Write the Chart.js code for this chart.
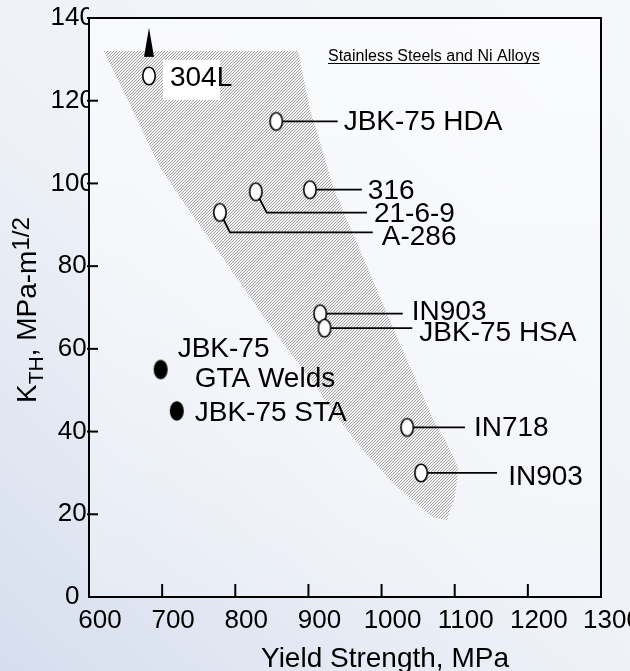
<!DOCTYPE html>
<html>
<head>
<meta charset="utf-8">
<script src="https://cdn.jsdelivr.net/npm/chart.js@4/dist/chart.umd.min.js"></script>
<style>
html,body{margin:0;padding:0;background:#eef1f7;}
#wrap{position:relative;width:630px;height:671px;}
</style>
</head>
<body>
<div id="wrap"><canvas id="c"></canvas></div>
<script>
// ---------- data ----------
const openNames  = ['304L','JBK-75 HDA','316','21-6-9','A-286','IN903','JBK-75 HSA','IN718','IN903'];
const openYield  = [682, 856, 902, 828, 779, 916, 922, 1035, 1054];
const openKth    = [126, 115, 98.5, 98, 93, 68.5, 65, 41, 30];

const solidNames = [['JBK-75','GTA Welds'], ['JBK-75 STA']];
const solidYield = [698, 720];
const solidKth   = [55, 45];

const arrowYield = [682];
const arrowKth   = [134];

const bandYield = [620, 652, 697, 727, 775, 838, 871, 906, 939, 975, 1016, 1070, 1089, 1100, 1105, 1094, 1069, 1028, 970, 935, 919, 902, 886];
const bandKth   = [132, 120.5, 104, 96, 84, 68, 60, 52, 43.5, 35.5, 27.5, 19.3, 18.6, 24, 31, 35.5, 43.5, 60, 84, 98.5, 108, 118, 132];

const xTickValues = [600, 700, 800, 900, 1000, 1100, 1200, 1300];
const yTickValues = [0, 20, 40, 60, 80, 100, 120, 140];

const bandNote = 'Stainless Steels and Ni Alloys';
const xTitle = 'Yield Strength, MPa';

// ---------- callout layout (leader end in MPa, offsets in px) ----------
const openCallouts = [
  {lead:null, dx:21, dy:2.5, box:[14,-16,57,40]},
  {lead:940,  gap:6,  dy:1},
  {lead:973,  gap:6,  dy:2},
  {lead:980,  gap:7,  dy:2, bend:[11,21]},
  {lead:988,  gap:9,  dy:5, bend:[10,20]},
  {lead:1029, gap:9,  dy:-1},
  {lead:1042, gap:7,  dy:5},
  {lead:1114, gap:9,  dy:1},
  {lead:1158, gap:11, dy:4}
];
const solidCallouts = [
  [{dx:17, dy:-20}, {dx:34, dy:10}],
  [{dx:18, dy:2}]
];

const FONT = "'Liberation Sans', Arial, Helvetica, sans-serif";

// ---------- marker images ----------
function ellipseMarker(w, h, rx, ry, fill, stroke, lw) {
  const c = document.createElement('canvas'); c.width = w; c.height = h;
  const g = c.getContext('2d');
  g.beginPath(); g.ellipse(w/2, h/2, rx, ry, 0, 0, Math.PI*2);
  g.fillStyle = fill; g.fill();
  if (stroke) { g.lineWidth = lw; g.strokeStyle = stroke; g.stroke(); }
  return c;
}
const openMarker  = ellipseMarker(16, 22, 6.2, 8.8, '#ffffff', '#000000', 1.6);
const solidMarker = ellipseMarker(16, 22, 7, 9.8, '#000000', null, 0);
const arrowMarker = (function(){
  const c = document.createElement('canvas'); c.width = 12; c.height = 30;
  const g = c.getContext('2d');
  g.beginPath(); g.moveTo(6, 0); g.lineTo(11, 29); g.lineTo(1, 29); g.closePath();
  g.fillStyle = '#000'; g.fill();
  return c;
})();
const hatch = (function(){
  const c = document.createElement('canvas'); c.width = 3; c.height = 3;
  const g = c.getContext('2d');
  g.fillStyle = '#f3f3f3'; g.fillRect(0,0,3,3);
  g.fillStyle = '#a2a2a2';
  g.fillRect(2,0,1,1); g.fillRect(1,1,1,1); g.fillRect(0,2,1,1);
  return g.createPattern(c, 'repeat');
})();

const toPts = (xs, ys) => xs.map((x, i) => ({x: x, y: ys[i]}));

// ---------- drawing plugin ----------
const deco = {
  id: 'deco',
  beforeDraw(chart) {
    const ctx = chart.ctx, W = chart.width, H = chart.height;
    ctx.save();
    const g = ctx.createLinearGradient(W, 0, 0, H);
    g.addColorStop(0, '#f6f7fa');
    g.addColorStop(0.55, '#eef1f7');
    g.addColorStop(1, '#d6deee');
    ctx.fillStyle = g; ctx.fillRect(0, 0, W, H);
    const a = chart.chartArea;
    const g2 = ctx.createLinearGradient(0, a.top, 0, a.bottom);
    g2.addColorStop(0, 'rgba(255,255,255,0.55)');
    g2.addColorStop(1, 'rgba(255,255,255,0.25)');
    ctx.fillStyle = g2; ctx.fillRect(a.left, a.top, a.right - a.left, a.bottom - a.top);
    ctx.restore();
  },
  beforeDatasetsDraw(chart) {
    const ctx = chart.ctx, xs = chart.scales.x, ys = chart.scales.y;
    ctx.save();
    ctx.strokeStyle = '#000'; ctx.lineWidth = 1.8;
    openCallouts.forEach((c, i) => {
      if (c.lead == null) return;
      const px = xs.getPixelForValue(openYield[i]);
      const py = ys.getPixelForValue(openKth[i]);
      const ex = xs.getPixelForValue(c.lead);
      ctx.beginPath(); ctx.moveTo(px, py);
      let ly = py;
      if (c.bend) { ly = py + c.bend[1]; ctx.lineTo(px + c.bend[0], ly); }
      ctx.lineTo(ex, ly); ctx.stroke();
    });
    ctx.restore();
  },
  afterDatasetsDraw(chart) {
    const ctx = chart.ctx, xs = chart.scales.x, ys = chart.scales.y;
    ctx.save();
    ctx.fillStyle = '#000';
    ctx.textBaseline = 'middle'; ctx.textAlign = 'left';
    ctx.font = '28px ' + FONT;
    openCallouts.forEach((c, i) => {
      const px = xs.getPixelForValue(openYield[i]);
      const py = ys.getPixelForValue(openKth[i]);
      if (c.lead == null) {
        if (c.box) { ctx.fillStyle = '#ffffff'; ctx.fillRect(px + c.box[0], py + c.box[1], c.box[2], c.box[3]); ctx.fillStyle = '#000'; }
        ctx.fillText(openNames[i], px + c.dx, py + c.dy);
        return;
      }
      const ex = xs.getPixelForValue(c.lead);
      const ly = c.bend ? py + c.bend[1] : py;
      ctx.fillText(openNames[i], ex + c.gap, ly + c.dy);
    });
    solidCallouts.forEach((lines, i) => {
      const px = xs.getPixelForValue(solidYield[i]);
      const py = ys.getPixelForValue(solidKth[i]);
      lines.forEach((o, k) => ctx.fillText(solidNames[i][k], px + o.dx, py + o.dy));
    });
    ctx.font = '16px ' + FONT; ctx.textBaseline = 'alphabetic';
    const nx = 328, ny = 61;
    ctx.fillText(bandNote, nx, ny);
    const nw = ctx.measureText(bandNote).width;
    ctx.lineWidth = 1; ctx.strokeStyle = '#000';
    ctx.beginPath(); ctx.moveTo(nx, ny + 2.5); ctx.lineTo(nx + nw, ny + 2.5); ctx.stroke();
    ctx.restore();
  },
  afterDraw(chart) {
    const ctx = chart.ctx, xs = chart.scales.x, ys = chart.scales.y, a = chart.chartArea;
    ctx.save();
    ctx.strokeStyle = '#000'; ctx.lineWidth = 2;
    ctx.strokeRect(a.left, a.top, a.right - a.left, a.bottom - a.top);
    xs.ticks.forEach(t => {
      if (t.value <= xs.min || t.value >= xs.max) return;
      const x = xs.getPixelForValue(t.value);
      ctx.beginPath(); ctx.moveTo(x, a.bottom); ctx.lineTo(x, a.bottom - 13); ctx.stroke();
    });
    ys.ticks.forEach(t => {
      if (t.value <= ys.min) return;
      const y = ys.getPixelForValue(t.value);
      ctx.beginPath(); ctx.moveTo(a.left - 2, y); ctx.lineTo(a.left + 9, y); ctx.stroke();
    });
    ctx.fillStyle = '#000';
    ctx.font = '28px ' + FONT; ctx.textAlign = 'left'; ctx.textBaseline = 'alphabetic';
    ctx.fillText(xTitle, 261, 667);
    ctx.translate(36, 403); ctx.rotate(-Math.PI / 2);
    let u = 0;
    const seg = (txt, size, v) => { ctx.font = size + 'px ' + FONT; ctx.fillText(txt, u, v); u += ctx.measureText(txt).width; };
    seg('K', 28, 0);
    seg('TH', 21, 7);
    seg(', MPa-m', 28, 0);
    seg('1/2', 24, -7);
    ctx.restore();
  }
};

new Chart(document.getElementById('c'), {
  type: 'scatter',
  data: {
    datasets: [
      { label: 'open', data: toPts(openYield, openKth), pointStyle: openMarker, pointRadius: 8, pointHoverRadius: 8 },
      { label: 'solid', data: toPts(solidYield, solidKth), pointStyle: solidMarker, pointRadius: 8, pointHoverRadius: 8 },
      { label: 'arrow', data: toPts(arrowYield, arrowKth), pointStyle: arrowMarker, pointRadius: 8, pointHoverRadius: 8 },
      { type: 'line', label: 'band', data: toPts(bandYield, bandKth), fill: 'shape', backgroundColor: hatch,
        borderWidth: 0, borderColor: 'rgba(0,0,0,0)', pointRadius: 0, pointHoverRadius: 0, tension: 0 }
    ]
  },
  options: {
    responsive: true, maintainAspectRatio: false, animation: false,
    events: [],
    layout: { padding: { top: 18, right: 29, left: 0, bottom: 0 } },
    plugins: { legend: { display: false }, tooltip: { enabled: false }, filler: { drawTime: 'beforeDatasetsDraw' } },
    scales: {
      x: {
        type: 'linear', min: xTickValues[0], max: xTickValues[xTickValues.length - 1],
        afterBuildTicks(s) { s.ticks = xTickValues.map(v => ({value: v})); },
        ticks: { color: '#000', font: { family: FONT, size: 26 }, padding: 8, labelOffset: 11, autoSkip: false, maxRotation: 0,
                 callback: v => String(v) },
        grid: { display: false, drawTicks: false }, border: { display: false },
        afterFit(s) { s.height = 74; s.paddingLeft = 0; s.paddingRight = 0; }
      },
      y: {
        type: 'linear', min: yTickValues[0], max: yTickValues[yTickValues.length - 1],
        afterBuildTicks(s) { s.ticks = yTickValues.map(v => ({value: v})); },
        ticks: { color: '#000', font: { family: FONT, size: 26 }, padding: -5, crossAlign: 'center', autoSkip: false, callback: v => String(v) },
        grid: { display: false, drawTicks: false }, border: { display: false },
        afterFit(s) { s.width = 89; s.paddingTop = 0; s.paddingBottom = 0; }
      }
    }
  },
  plugins: [deco]
});
</script>
</body>
</html>
